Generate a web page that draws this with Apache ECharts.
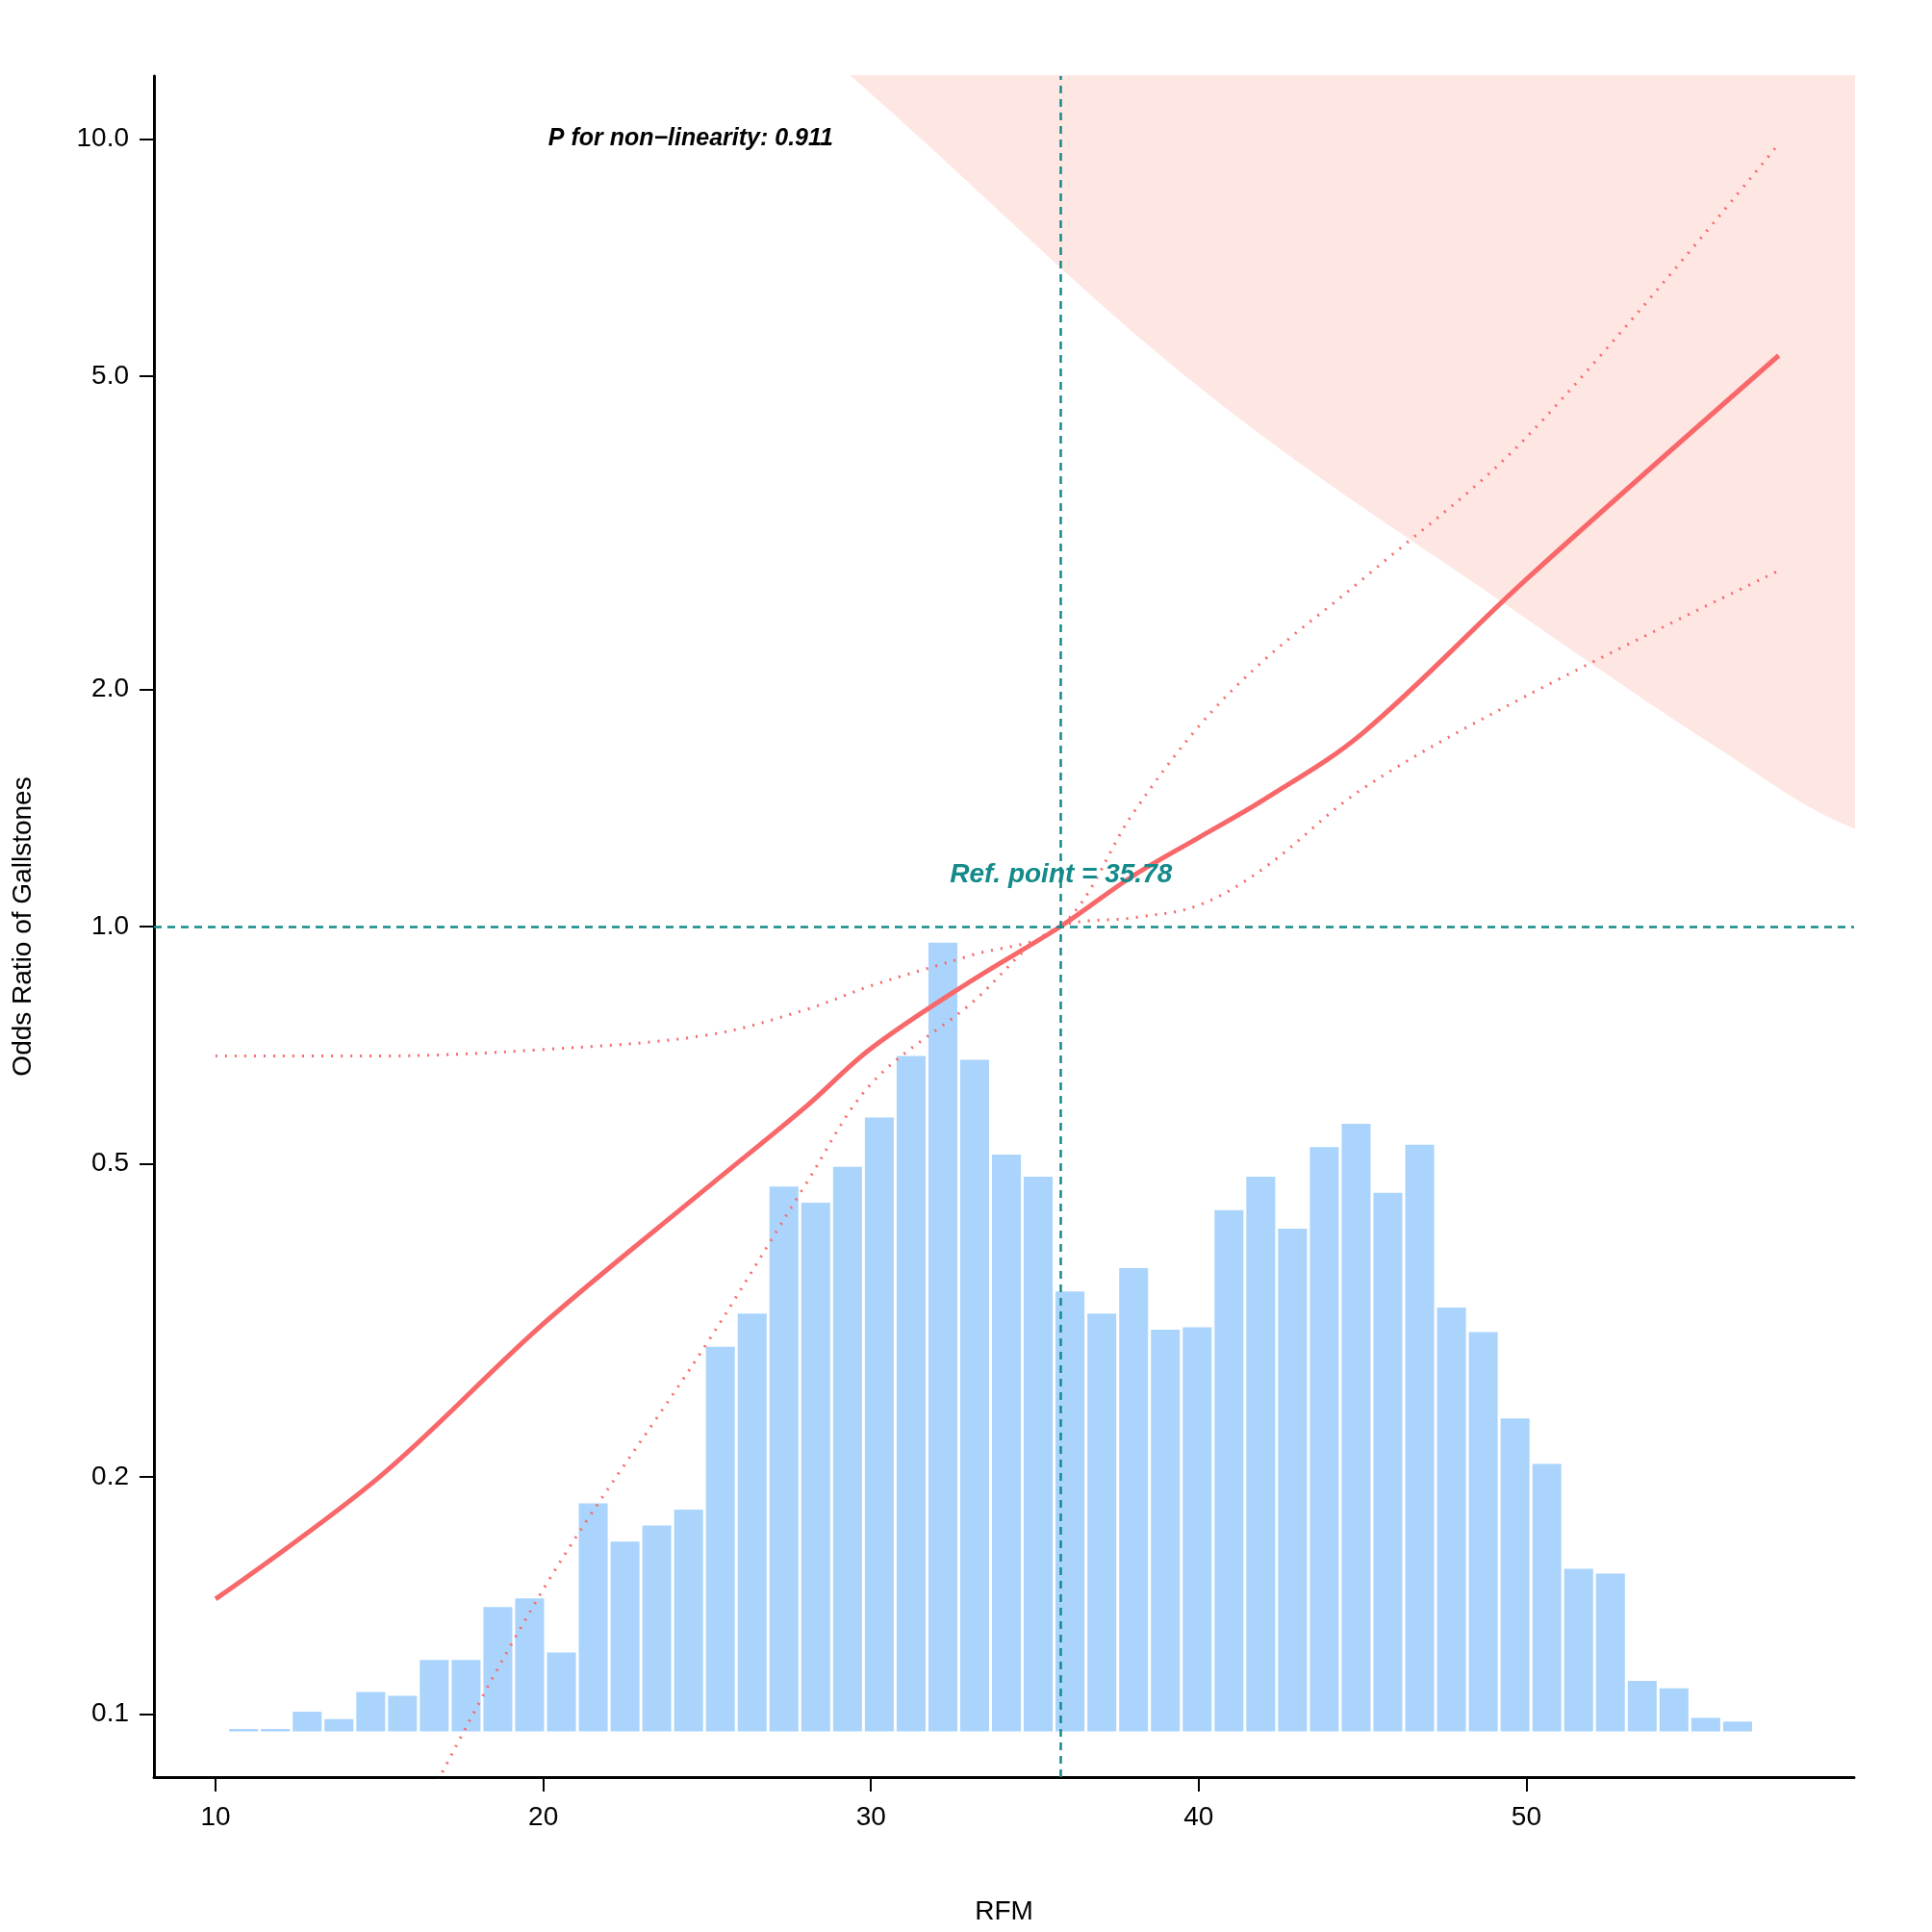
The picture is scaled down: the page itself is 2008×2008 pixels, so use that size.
<!DOCTYPE html>
<html><head><meta charset="utf-8">
<script src="https://cdn.jsdelivr.net/npm/echarts@6/dist/echarts.min.js"></script>
<style>html,body{margin:0;background:#fff}#pic{width:2008px;height:2008px}</style>
</head><body><div id="pic"></div>
<script>
// curve knots (RFM) and odds ratios
var knotX   = [10, 15, 20, 25, 28, 30, 33, 35.78, 38, 40, 42, 45, 50, 57.7];
var orFit   = [0.140, 0.200, 0.313, 0.466, 0.590, 0.700, 0.850, 1.0, 1.160, 1.297, 1.45, 1.76, 2.76, 5.31];
var orUpper = [0.685, 0.685, 0.698, 0.728, 0.784, 0.841, 0.918, 1.0, 1.393, 1.795, 2.18, 2.76, 4.18, 9.86];
var orLower = [0.026, 0.060, 0.144, 0.296, 0.470, 0.631, 0.795, 1.0, 1.026, 1.064, 1.187, 1.496, 1.963, 2.83];
// histogram of RFM (relative frequency), bins from 10.37 of width 0.97
var binStart = 10.37, binWidth = 0.97;
var histCounts = [2,2,16,10,32,29,58,58,101,108,64,185,154,167,180,312,339,442,429,458,498,548,640,545,
  468,450,357,339,376,326,328,423,450,408,474,493,437,476,344,324,254,217,132,128,41,35,11,8];
var yTicks = [0.1, 0.2, 0.5, 1.0, 2.0, 5.0, 10.0];
var xTicks = [10, 20, 30, 40, 50];
var refPoint = 35.78;

var L = Math.log10;
function pts(arr){ return knotX.map(function(x,i){ return [x, L(arr[i])]; }); }
var bandGap = knotX.map(function(x,i){ return [x, L(orUpper[i]) - L(orLower[i])]; });
var histBase = -1.022, histScale = 1/639;
var hist = histCounts.map(function(c,i){ return [binStart+i*binWidth, binStart+(i+1)*binWidth, c]; });

var font = 'Liberation Sans';
var sm = 0.35;
var chart = echarts.init(document.getElementById('pic'));
var option = {
  backgroundColor: '#fff',
  animation: false,
  grid: {left: 160, right: 81, top: 79, bottom: 161},
  xAxis: {
    type: 'value', min: 8.12, max: 60, name: 'RFM', nameLocation: 'middle', nameGap: 126,
    nameTextStyle: {fontFamily: font, fontSize: 28, color: '#000'},
    axisLine: {onZero: false, lineStyle: {color: '#000', width: 3}},
    axisTick: {show: true, length: 15, lineStyle: {color: '#000', width: 2}, customValues: xTicks},
    axisLabel: {fontFamily: font, fontSize: 28, color: '#000', margin: 28, customValues: xTicks},
    splitLine: {show: false}
  },
  yAxis: {
    type: 'value', min: -1.08, max: 1.08, name: 'Odds Ratio of Gallstones', nameLocation: 'middle', nameGap: 122,
    nameTextStyle: {fontFamily: font, fontSize: 28, color: '#000'},
    axisLine: {show: true, onZero: false, lineStyle: {color: '#000', width: 3}},
    axisTick: {show: true, length: 15, lineStyle: {color: '#000', width: 2}, customValues: yTicks.map(L)},
    axisLabel: {fontFamily: font, fontSize: 28, color: '#000', margin: 26, customValues: yTicks.map(L),
      formatter: function(v){ return Math.pow(10, v).toFixed(1); }},
    splitLine: {show: false}
  },
  series: [
    {
      type: 'custom', z: 1, data: hist,
      renderItem: function(params, api){
        var a = api.coord([api.value(0), histBase + api.value(2)*histScale]);
        var b = api.coord([api.value(1), histBase]);
        return {type: 'rect', shape: {x: a[0]+1.5, y: a[1], width: b[0]-a[0]-3, height: b[1]-a[1]},
          style: {fill: '#AAD4FC'}};
      }
    },
    // confidence band: lower bound (invisible) + stacked width
    {type: 'line', z: 2, stack: 'band', data: pts(orLower), smooth: sm, symbol: 'none',
      lineStyle: {opacity: 0}},
    {type: 'line', z: 2, stack: 'band', data: bandGap, smooth: sm, symbol: 'none',
      lineStyle: {opacity: 0}, areaStyle: {color: 'rgba(250,128,114,0.2)', opacity: 1}},
    {type: 'line', z: 3, data: pts(orUpper), smooth: sm, symbol: 'none',
      lineStyle: {color: '#F8686A', width: 3, type: [2, 8]}},
    {type: 'line', z: 3, data: pts(orLower), smooth: sm, symbol: 'none',
      lineStyle: {color: '#F8686A', width: 3, type: [2, 8]}},
    {type: 'line', z: 4, data: pts(orFit), smooth: sm, symbol: 'none',
      lineStyle: {color: '#F8686A', width: 5},
      markLine: {
        silent: true, symbol: 'none', label: {show: false},
        lineStyle: {color: '#148A8A', width: 2.5, type: [8, 6]},
        data: [{xAxis: refPoint}, {yAxis: 0}]
      },
      markPoint: {
        symbol: 'circle', symbolSize: 0,
        data: [
          {coord: [24.5, 1.0], label: {show: true, formatter: 'P for non\u2212linearity: 0.911',
            fontFamily: font, fontSize: 25, fontWeight: 'bold', fontStyle: 'italic', color: '#000'}},
          {coord: [35.8, 0.066], label: {show: true, formatter: 'Ref. point = ' + refPoint,
            fontFamily: font, fontSize: 28, fontWeight: 'bold', fontStyle: 'italic', color: '#148A8A'}}
        ]
      }
    }
  ]
};
chart.setOption(option);
</script></body></html>
